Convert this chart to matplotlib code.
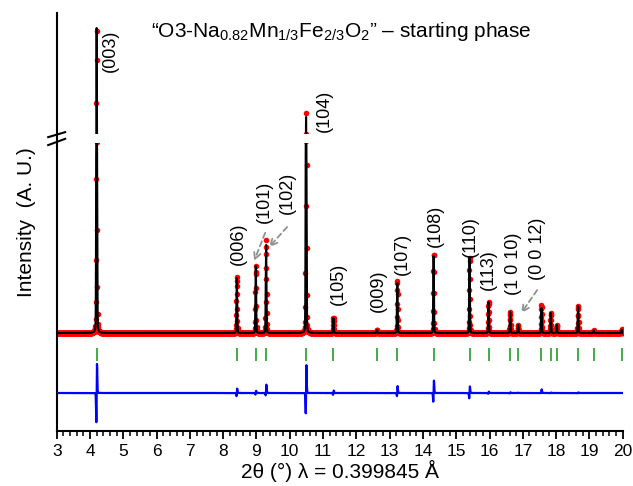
import numpy as np
import matplotlib
matplotlib.use("Agg")
import matplotlib.pyplot as plt
from matplotlib.ticker import MultipleLocator, NullLocator
import matplotlib.transforms as mtransforms

plt.rcParams['font.family'] = ['Liberation Sans', 'DejaVu Sans']
plt.rcParams['mathtext.fontset'] = 'custom'
plt.rcParams['mathtext.rm'] = 'Liberation Sans'
plt.rcParams['mathtext.it'] = 'Liberation Sans:italic'
plt.rcParams['mathtext.bf'] = 'Liberation Sans:bold'

# ---------------- data ----------------
reflections = [4.20, 8.41, 8.98, 9.29, 10.49, 11.31, 12.62, 13.23, 14.32, 15.40,
               15.97, 16.62, 16.86, 17.56, 17.84, 18.02, 18.66, 19.13, 19.97]
calc_heights = [4760, 550, 670, 880, 3870, 150, 30, 500, 770, 750,
                310, 210, 80, 250, 200, 80, 270, 25, 35]
obs_heights = [4760, 560, 675, 930, 3930, 155, 30, 530, 800, 760,
               315, 212, 82, 280, 202, 80, 272, 25, 35]
obs_shift = [0.0011, 0.0012, 0.0005, 0.0010, 0.0011, 0.0025, 0.0, 0.0017, 0.0024, 0.0014,
             0.0006, 0.0005, 0.0003, 0.0009, 0.0003, 0.0, 0.0003, 0.0, 0.0]
background = 300.0
fwhm = 0.025
eta = 0.12
step = 0.005
two_theta = np.arange(3.0, 20.0 + step / 2, step)

hkl_labels = ["(003)", "(006)", "(101)", "(102)", "(104)", "(105)", "(009)",
              "(107)", "(108)", "(110)", "(113)", "(1 0 10)", "(0 0 12)"]
label_x = [4.62, 8.45, 9.23, 9.94, 11.03, 11.47, 12.67, 13.37, 14.37, 15.42, 15.96, 16.71, 17.43]
label_y = [0.909, 0.447, 0.548, 0.569, 0.766, 0.352, 0.335, 0.423, 0.490, 0.464, 0.385, 0.400, 0.435]

arrows = [((9.26, 0.474), (8.93, 0.407)),
          ((9.92, 0.488), (9.38, 0.440)),
          ((17.43, 0.337), (16.95, 0.282))]

diff_offset = -300.0
tick_lo, tick_hi = 20.0, 150.0

# axis break (cut-out region of intensity)
BRK_LO, BRK_HI, BRK_GAP = 2200.0, 4000.0, 90.0
YLIM = (-680.0, 5210.0)


def pv(x, x0, h):
    u = (x - x0) / fwhm
    g = np.exp(-4 * np.log(2) * u ** 2)
    lo = 1.0 / (1 + 4 * u ** 2)
    return h * ((1 - eta) * g + eta * lo)


calc = background + sum(pv(two_theta, p, h) for p, h in zip(reflections, calc_heights))
obs = background + sum(pv(two_theta, p + d, h) for p, h, d in zip(reflections, obs_heights, obs_shift))
diff = obs - calc + diff_offset


def fwd(y):
    y = np.asarray(y, dtype=float)
    return np.where(y <= BRK_LO, y,
                    np.where(y >= BRK_HI, y - BRK_HI + BRK_LO + BRK_GAP,
                             BRK_LO + (y - BRK_LO) * BRK_GAP / (BRK_HI - BRK_LO)))


def inv(y):
    y = np.asarray(y, dtype=float)
    return np.where(y <= BRK_LO, y,
                    np.where(y >= BRK_LO + BRK_GAP, y - BRK_LO - BRK_GAP + BRK_HI,
                             BRK_LO + (y - BRK_LO) * (BRK_HI - BRK_LO) / BRK_GAP))


# ---------------- figure ----------------
fig = plt.figure(figsize=(6.33, 4.86), dpi=100)
ax = fig.add_axes([56.7 / 633, 55 / 486, 566.0 / 633, 418 / 486])
ax.set_yscale('function', functions=(fwd, inv))

ax.plot(two_theta, obs, 'o', color='#ff0000', markersize=4.0, markeredgewidth=0, zorder=2)
ax.plot(two_theta, calc, '-', color='black', lw=1.5, zorder=3)
ax.vlines(reflections, tick_lo, tick_hi, color='#22a022', lw=1.2, zorder=3)
ax.plot(two_theta, diff, '-', color='#0000ff', lw=1.6, zorder=3)

# white band hiding the cut-out
ax.axhspan(BRK_LO, BRK_HI, xmin=0.006, xmax=1, color='white', zorder=4, lw=0)

ax.set_xlim(3, 20)
ax.set_ylim(*YLIM)

for s in ['top', 'right']:
    ax.spines[s].set_visible(False)
ax.spines['left'].set_linewidth(1.5)
ax.spines['bottom'].set_linewidth(1.5)
ax.yaxis.set_major_locator(NullLocator())
ax.xaxis.set_major_locator(MultipleLocator(1))
ax.xaxis.set_minor_locator(MultipleLocator(0.2))
ax.tick_params(axis='x', which='major', direction='out', length=6, width=1.3,
               labelsize=12.5, pad=3)
ax.tick_params(axis='x', which='minor', direction='out', length=3.5, width=1.1)

ax.set_xlabel("2θ (°) λ = 0.399845 Å", fontsize=15, labelpad=1)
ax.set_ylabel("Intensity  (A. U.)", fontsize=15, labelpad=15)

# break marks on the y-axis
for y0, y1 in [(0.703, 0.715), (0.684, 0.699)]:
    ax.plot([-0.015, 0.015], [y0, y1], transform=ax.transAxes, color='black',
            lw=1.5, clip_on=False, zorder=6)

# title
ax.text(0.503, 0.955,
        r"“O3-Na$\mathregular{_{0.82}}$Mn$\mathregular{_{1/3}}$Fe$\mathregular{_{2/3}}$O$\mathregular{_2}$” – starting phase",
        transform=ax.transAxes, ha='center', va='center', fontsize=15)

# peak labels
trans = mtransforms.blended_transform_factory(ax.transData, ax.transAxes)
for lab, lx, ly in zip(hkl_labels, label_x, label_y):
    ax.text(lx, ly, lab, transform=trans, rotation=90, ha='center', va='center',
            fontsize=13, zorder=7)

for (x0, y0), (x1, y1) in arrows:
    ax.annotate('', xy=(x1, y1), xycoords=trans, xytext=(x0, y0), textcoords=trans,
                arrowprops=dict(arrowstyle='->', color='#909090', lw=1.3,
                                linestyle=(0, (3, 2)), shrinkA=0, shrinkB=0,
                                mutation_scale=12), zorder=7)

fig.savefig("out.png", dpi=100)
